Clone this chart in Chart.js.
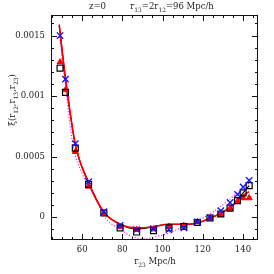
<!DOCTYPE html>
<html>
<head>
<meta charset="utf-8">
<script src="https://cdn.jsdelivr.net/npm/chart.js@4"></script>
<style>
  html, body { margin: 0; padding: 0; background: #fff; }
  #wrap { width: 274px; height: 274px; }
</style>
</head>
<body>
<div id="wrap"><canvas id="zeta"></canvas></div>
<script>
// measured bins, r23 in Mpc/h
const r23 = [49, 51.7, 56.6, 63.2, 70.8, 78.9, 87.1, 95.5, 103.2, 110.6, 117.3, 123.6, 129, 133.6, 137.3, 140.1, 143.1];
const zetaSquares = [0.00123, 0.00103, 0.00057, 0.00027, 0.000033, -0.00009, -0.000124, -0.000113, -0.00009, -0.000078, -0.000045, -0.000008, 0.000025, 0.000074, 0.000135, 0.0002, 0.00026];
const zetaTriangles = [0.00128, 0.00105, 0.00054, 0.000253, 0.00003, -0.00008, -0.000105, -0.0001, -0.000078, -0.000072, -0.00004, -0.00001, 0.00002, 0.00007, 0.00013, 0.000157, 0.000157];
const zetaCrosses = [0.0015, 0.00114, 0.000606, 0.000292, 0.000044, -0.00007, -0.000105, -0.000097, -0.000105, -0.000089, -0.00004, -0.000006, 0.000052, 0.00012, 0.000187, 0.000248, 0.000303];

// model curves
const curveR = [48.6, 51.7, 56.6, 63.2, 70.8, 78.9, 87.1, 95.5, 103.2, 110.6, 117.3, 123.6, 129, 133.6, 137.3, 140.1, 143.1];
const curveBlack = [0.00159, 0.00115, 0.0006, 0.00029, 0.00004, -0.00006, -0.0001, -0.00008, -0.00006, -0.00006, -0.00005, -0.00001, 0.00003, 0.00008, 0.00014, 0.0002, 0.00026];
const curveRed = [0.00158, 0.00114, 0.0006, 0.00028, 0.00004, -0.00006, -0.00009, -0.00008, -0.00006, -0.00006, -0.00005, -0.00001, 0.00003, 0.00008, 0.00013, 0.00018, 0.00021];
const dottedR = [48.8, 51.7, 55.4, 60, 66.1, 69.5, 74, 78.5, 82.7, 87.6, 92, 95.9, 103.4, 110.5, 115.8, 120, 125, 129, 133.6, 138, 143.1];
const curveMagenta = [0.00149, 0.00108, 0.000595, 0.00036, 0.000185, 0.000046, -0.00005, -0.00009, -0.000146, -0.000174, -0.00018, -0.000165, -0.000132, -0.000078, -0.00005, -0.00001, 0.00004, 0.000088, 0.00015, 0.000212, 0.00028];

const xTicks = [60, 80, 100, 120, 140];
const yTicks = [0, 0.0005, 0.001, 0.0015];
const yTickLabels = ['0', '0.0005', '0.001', '0.0015'];

const FONT = '"DejaVu Serif"';
const TEXT_SIZE = 8.5;
const toXY = (xs, ys) => xs.map((x, i) => ({ x: x, y: ys[i] }));

// text with subscripts: parts = [[text, isSub], ...]
function richText(ctx, parts, x, y, size) {
  let w = 0;
  parts.forEach(p => {
    ctx.font = (p[1] ? size * 0.7 : size) + 'px ' + FONT;
    w += ctx.measureText(p[0]).width;
  });
  let cx = x - w / 2;
  parts.forEach(p => {
    ctx.font = (p[1] ? size * 0.7 : size) + 'px ' + FONT;
    ctx.fillText(p[0], cx, p[1] ? y + size * 0.3 : y);
    cx += ctx.measureText(p[0]).width;
  });
}

const frame = {
  id: 'frame',
  afterDatasetsDraw(chart) {
    const { ctx, chartArea: a, scales: { x, y } } = chart;
    ctx.save();
    ctx.strokeStyle = '#111';
    ctx.lineWidth = 1;
    ctx.strokeRect(a.left + 0.5, a.top + 0.5, a.right - a.left - 1, a.bottom - a.top - 1);

    // inward ticks on all four sides
    ctx.beginPath();
    for (let v = 45; v <= x.max; v += 5) {
      const px = Math.round(x.getPixelForValue(v)) + 0.5;
      const len = v % 20 === 0 ? 6 : 3;
      ctx.moveTo(px, a.bottom); ctx.lineTo(px, a.bottom - len);
      ctx.moveTo(px, a.top); ctx.lineTo(px, a.top + len);
    }
    for (let k = -1; k <= 16; k++) {
      const py = Math.round(y.getPixelForValue(k * 0.0001)) + 0.5;
      const len = k % 5 === 0 ? 6 : 3;
      ctx.moveTo(a.left, py); ctx.lineTo(a.left + len, py);
      ctx.moveTo(a.right, py); ctx.lineTo(a.right - len, py);
    }
    ctx.stroke();

    ctx.fillStyle = '#222';
    ctx.textAlign = 'left';
    ctx.textBaseline = 'alphabetic';
    ctx.font = TEXT_SIZE + 'px ' + FONT;
    ctx.fillText('z=0', 89, 9);
    richText(ctx, [['r', 0], ['13', 1], ['=2r', 0], ['12', 1], ['=96 Mpc/h', 0]], 172, 9, TEXT_SIZE);
    richText(ctx, [['r', 0], ['23', 1], [' Mpc/h', 0]], 155, 264, TEXT_SIZE);

    ctx.translate(15, 100);
    ctx.rotate(-Math.PI / 2);
    richText(ctx, [['\u03be(r', 0], ['12', 1], [',r', 0], ['13', 1], [',r', 0], ['23', 1], [')', 0]], 0, 0, TEXT_SIZE);
    ctx.restore();
  }
};

new Chart(document.getElementById('zeta'), {
  type: 'scatter',
  data: {
    datasets: [
      {
        label: 'crosses',
        data: toXY(r23, zetaCrosses),
        pointStyle: 'crossRot',
        radius: 4.5,
        borderColor: '#1010ff',
        borderWidth: 1.3,
        order: 0
      },
      {
        label: 'squares',
        data: toXY(r23, zetaSquares),
        pointStyle: 'rect',
        radius: 4.2,
        borderColor: '#000',
        backgroundColor: 'rgba(0,0,0,0)',
        borderWidth: 1.2,
        order: 1
      },
      {
        label: 'triangles',
        data: toXY(r23, zetaTriangles),
        pointStyle: 'triangle',
        radius: 3.5,
        borderColor: '#ff0000',
        backgroundColor: '#ff0000',
        borderWidth: 1,
        order: 2
      },
      {
        label: 'red',
        data: toXY(curveR, curveRed),
        showLine: true,
        pointRadius: 0,
        borderColor: '#ff0000',
        borderWidth: 1.6,
        cubicInterpolationMode: 'monotone',
        order: 3
      },
      {
        label: 'black',
        data: toXY(curveR, curveBlack),
        showLine: true,
        pointRadius: 0,
        borderColor: '#000',
        borderWidth: 1.2,
        cubicInterpolationMode: 'monotone',
        order: 4
      },
      {
        label: 'magenta',
        data: toXY(dottedR, curveMagenta),
        showLine: true,
        pointRadius: 0,
        borderColor: '#ff00ff',
        borderWidth: 1.2,
        borderDash: [1, 2],
        cubicInterpolationMode: 'monotone',
        order: 5
      }
    ]
  },
  options: {
    responsive: true,
    maintainAspectRatio: false,
    animation: false,
    events: [],
    layout: { padding: { top: 15, right: 16, left: 0, bottom: 0 } },
    plugins: {
      legend: { display: false },
      tooltip: { enabled: false }
    },
    scales: {
      x: {
        type: 'linear',
        min: 44.5,
        max: 147.5,
        grid: { display: false, drawTicks: false },
        border: { display: false },
        afterBuildTicks: s => { s.ticks = xTicks.map(v => ({ value: v })); },
        afterFit: s => { s.height = 34; },
        ticks: {
          padding: 5,
          color: '#222',
          font: { family: 'DejaVu Serif', size: TEXT_SIZE }
        }
      },
      y: {
        min: -0.00019,
        max: 0.00167,
        grid: { display: false, drawTicks: false },
        border: { display: false },
        afterBuildTicks: s => { s.ticks = yTicks.map(v => ({ value: v })); },
        afterFit: s => { s.width = 51; },
        ticks: {
          padding: 6,
          color: '#222',
          font: { family: 'DejaVu Serif', size: TEXT_SIZE },
          callback: (value, index) => yTickLabels[index]
        }
      }
    }
  },
  plugins: [frame]
});
</script>
</body>
</html>
